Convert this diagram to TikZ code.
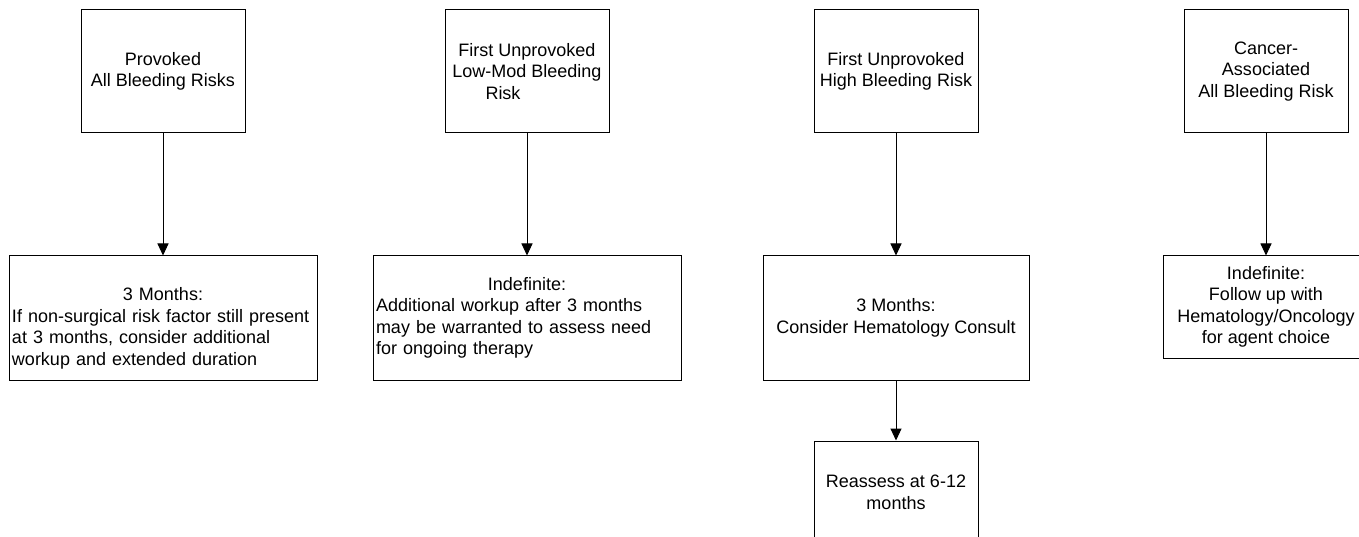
\documentclass[tikz,border=0pt]{standalone}
\usepackage{fontspec}
\setmainfont{Liberation Sans}
\usetikzlibrary{arrows.meta}
\tikzset{
    casebox/.style={draw, line width=1pt, inner sep=0pt, align=center},
    planbox/.style={draw, line width=1pt, inner xsep=3pt, inner ysep=0pt, text width=302pt, align=left,
        minimum height=124pt},
    flow/.style={-{Triangle[width=11pt,length=12pt]}, line width=1pt}
}
\begin{document}
\begin{tikzpicture}[x=1pt, y=-1pt, font=\fontsize{18}{21.5}\selectfont]
        % Frame
        \clip (0,0) rectangle (1359,537);

        % Cases
        \node[casebox, minimum width=164pt, minimum height=123pt] (prov) at (163,71.5) {Provoked\\All Bleeding Risks};
        \node[casebox, minimum width=164pt, minimum height=123pt] (lowmod) at (527,71.5) {First Unprovoked\\Low-Mod Bleeding\\Risk\hspace*{48pt}};
        \node[casebox, minimum width=164pt, minimum height=123pt] (highbleed) at (896,71.5) {First Unprovoked\\High Bleeding Risk};
        \node[casebox, minimum width=164pt, minimum height=123pt] (cancer) at (1266,71.5) {Cancer-\\Associated\\All Bleeding Risk};

        % Durations
        \node[planbox] (provdur) at (163,318) {\rule{0pt}{12pt}\\\makebox[\hsize]{3 Months:}\\If non-surgical risk factor still present\\at 3 months, consider additional\\workup and extended duration};
        \node[planbox] (lowmoddur) at (527,318) {\makebox[\hsize]{Indefinite:}\\Additional workup after 3 months\\may be warranted to assess need\\for ongoing therapy};
        \node[casebox, minimum width=266pt, minimum height=124pt] (highdur) at (896,318) {3 Months:\\Consider Hematology Consult};
        \node[casebox, minimum width=206pt, minimum height=102pt] (cancerdur) at (1266,307) {Indefinite:\\Follow up with\\Hematology/Oncology\\for agent choice};
        \node[casebox, minimum width=164pt, minimum height=103pt] (reassess) at (896,492.5) {Reassess at 6-12\\months};

        % Arrows
        \draw[flow] (prov) -- (provdur);
        \draw[flow] (lowmod) -- (lowmoddur);
        \draw[flow] (highbleed) -- (highdur);
        \draw[flow] (cancer) -- (cancerdur);
        \draw[flow] (highdur) -- (reassess);
    \end{tikzpicture}
\end{document}
